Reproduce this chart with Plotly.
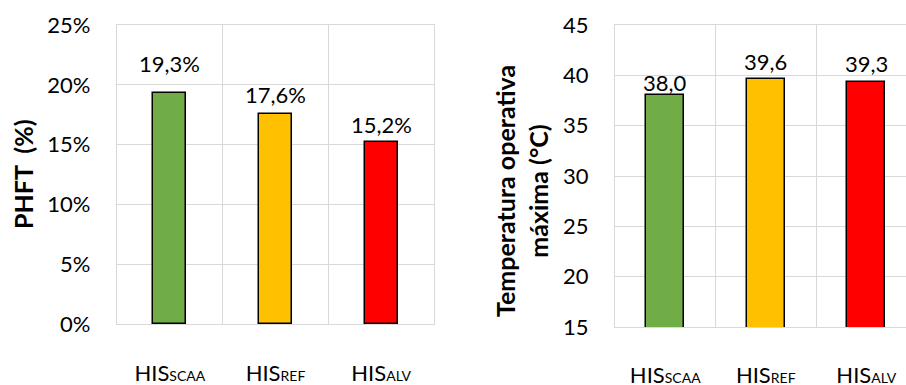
import plotly.graph_objects as go

# ---- data ----
categories = ["HIS_SCAA", "HIS_REF", "HIS_ALV"]
cat_main = ["HIS", "HIS", "HIS"]
cat_sub = ["SCAA", "REF", "ALV"]
phft_values = [0.193, 0.176, 0.152]
temp_values = [38.0, 39.6, 39.3]
bar_colors = ["#70AD47", "#FFC000", "#FF0000"]

# ---- style ----
FONT = "Lato"
FS = 22
TFS = 25
GRID = "#D9D9D9"
W, H = 906, 385

tick_text = [f"{m}<span style='font-size:14px'>{s}</span>" for m, s in zip(cat_main, cat_sub)]

fig = go.Figure()
fig.add_trace(go.Bar(x=categories, y=phft_values, marker=dict(color=bar_colors, line=dict(color="black", width=1.5)),
                     width=0.31, xaxis="x", yaxis="y", showlegend=False))
fig.add_trace(go.Bar(x=categories, y=temp_values, base=0, marker=dict(color=bar_colors, line=dict(color="black", width=1.5)),
                     width=0.375, xaxis="x2", yaxis="y2", showlegend=False))

def px_x(p):
    return p / W

def px_y(p):
    return 1 - p / H

# data labels
left_shift = [30, 19, 18]
right_shift = [13, 18, 19]
ann = []
for c, v, s in zip(categories, phft_values, left_shift):
    ann.append(dict(x=c, y=v, xref="x", yref="y", text=f"{v*100:.1f}%".replace(".", ","), showarrow=False,
                    yanchor="middle", yshift=s, font=dict(family=FONT, size=FS, color="#000")))
for c, v, s in zip(categories, temp_values, right_shift):
    ann.append(dict(x=c, y=v, xref="x2", yref="y2", text=f"{v:.1f}".replace(".", ","), showarrow=False,
                    yanchor="middle", yshift=s, font=dict(family=FONT, size=FS, color="#000")))
# axis titles
ann.append(dict(x=px_x(23), y=px_y(174), xref="paper", yref="paper", text="<b>PHFT  (%)</b>", textangle=-90,
                showarrow=False, xanchor="center", yanchor="middle", font=dict(family=FONT, size=TFS, color="#000")))
ann.append(dict(x=px_x(521), y=px_y(191), xref="paper", yref="paper", text="<b>Temperatura operativa<br>máxima (°C)</b>",
                textangle=-90, showarrow=False, xanchor="center", yanchor="middle",
                font=dict(family=FONT, size=TFS, color="#000")))

axis_common = dict(showgrid=True, gridcolor=GRID, gridwidth=1.3, zeroline=False, automargin=False,
                   tickfont=dict(family=FONT, size=FS, color="#000"), ticks="")

fig.update_layout(
    width=W, height=H, margin=dict(l=0, r=0, t=0, b=0, autoexpand=False),
    paper_bgcolor="white", plot_bgcolor="white",
    separators=",.",
    font=dict(family=FONT, size=FS, color="#000"),
    xaxis=dict(domain=[px_x(117), px_x(434)], anchor="y", type="category", tickson="boundaries",
               tickvals=categories, ticktext=tick_text, range=[-0.5, 2.5],
               showline=True, mirror=True, linecolor=GRID, linewidth=1.3, ticklabelstandoff=29, **axis_common),
    yaxis=dict(domain=[px_y(324), px_y(25)], anchor="x", range=[0, 0.25], dtick=0.05, tickformat=".0%",
               showline=True, mirror=True, linecolor=GRID, linewidth=1.3, ticklabelstandoff=21, **axis_common),
    xaxis2=dict(domain=[px_x(615), 1.0], anchor="y2", type="category", tickson="boundaries",
                tickvals=categories, ticktext=tick_text, range=[-0.5, -0.5 + 291 / 100.5],
                showline=True, mirror=True, linecolor=GRID, linewidth=1.3, ticklabelstandoff=28, **axis_common),
    yaxis2=dict(domain=[px_y(327), px_y(25)], anchor="x2", range=[15, 45], dtick=5,
                showline=True, linecolor=GRID, linewidth=1.3, ticklabelstandoff=21, **axis_common),
    annotations=ann,
    bargap=0,
)

fig.write_html("out.html")
